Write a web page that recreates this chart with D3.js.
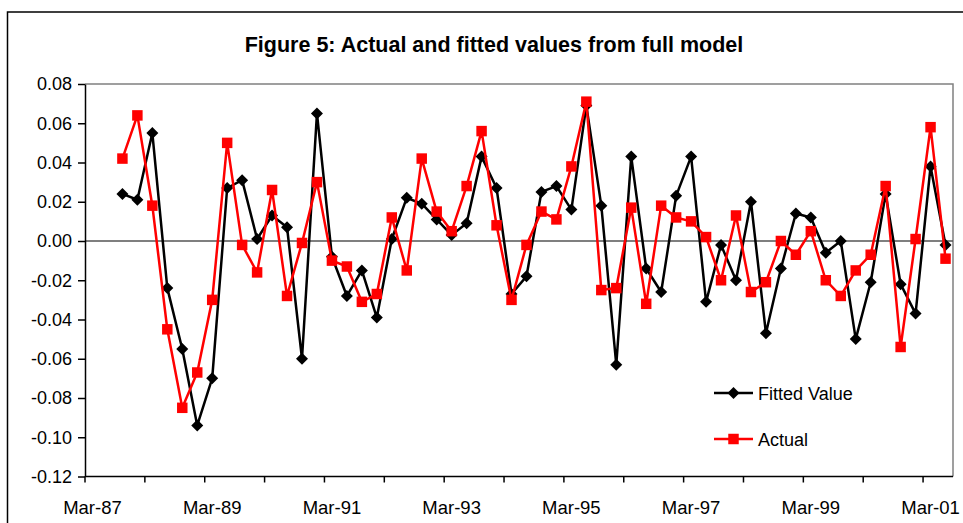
<!DOCTYPE html>
<html>
<head>
<meta charset="utf-8">
<script src="https://cdn.jsdelivr.net/npm/d3@7/dist/d3.min.js"></script>
<style>
    body { margin: 0; background: #fff; }
    svg { display: block; font-family: 'Liberation Sans', Arial, sans-serif; }
</style>
</head>
<body>
<div class="graph-container"></div>
<script>
// quarterly categories on the x axis (Mar-87 .. Jun-01)
var categories = [
    'Mar-87', 'Jun-87', 'Sep-87', 'Dec-87', 'Mar-88', 'Jun-88', 'Sep-88', 'Dec-88',
    'Mar-89', 'Jun-89', 'Sep-89', 'Dec-89', 'Mar-90', 'Jun-90', 'Sep-90', 'Dec-90',
    'Mar-91', 'Jun-91', 'Sep-91', 'Dec-91', 'Mar-92', 'Jun-92', 'Sep-92', 'Dec-92',
    'Mar-93', 'Jun-93', 'Sep-93', 'Dec-93', 'Mar-94', 'Jun-94', 'Sep-94', 'Dec-94',
    'Mar-95', 'Jun-95', 'Sep-95', 'Dec-95', 'Mar-96', 'Jun-96', 'Sep-96', 'Dec-96',
    'Mar-97', 'Jun-97', 'Sep-97', 'Dec-97', 'Mar-98', 'Jun-98', 'Sep-98', 'Dec-98',
    'Mar-99', 'Jun-99', 'Sep-99', 'Dec-99', 'Mar-00', 'Jun-00', 'Sep-00', 'Dec-00',
    'Mar-01', 'Jun-01'
];
// first quarter that has data
var firstQuarter = 'Sep-87';

// fitted values from the full model
var fitted = [
    0.024, 0.021, 0.055, -0.024, -0.055, -0.094, -0.070, 0.027, 0.031, 0.001,
    0.013, 0.007, -0.060, 0.065, -0.008, -0.028, -0.015, -0.039, 0.001, 0.022,
    0.019, 0.011, 0.003, 0.009, 0.043, 0.027, -0.027, -0.018, 0.025, 0.028,
    0.016, 0.069, 0.018, -0.063, 0.043, -0.014, -0.026, 0.023, 0.043, -0.031,
    -0.002, -0.020, 0.020, -0.047, -0.014, 0.014, 0.012, -0.006, -0.000, -0.050,
    -0.021, 0.024, -0.022, -0.037, 0.038, -0.002
];
// actual values
var actual = [
    0.042, 0.064, 0.018, -0.045, -0.085, -0.067, -0.030, 0.050, -0.002, -0.016,
    0.026, -0.028, -0.001, 0.030, -0.010, -0.013, -0.031, -0.027, 0.012, -0.015,
    0.042, 0.015, 0.005, 0.028, 0.056, 0.008, -0.030, -0.002, 0.015, 0.011,
    0.038, 0.071, -0.025, -0.024, 0.017, -0.032, 0.018, 0.012, 0.010, 0.002,
    -0.020, 0.013, -0.026, -0.021, -0.000, -0.007, 0.005, -0.020, -0.028, -0.015,
    -0.007, 0.028, -0.054, 0.001, 0.058, -0.009
];

var yTicks = [-0.12, -0.10, -0.08, -0.06, -0.04, -0.02, 0.00, 0.02, 0.04, 0.06, 0.08];
var xLabels = ['Mar-87', 'Mar-89', 'Mar-91', 'Mar-93', 'Mar-95', 'Mar-97', 'Mar-99', 'Mar-01'];

var svgWidth = 963;
var svgHeight = 523;
var plotLeft = 85;
var plotRight = 953;
var plotTop = 84;
var plotBottom = 476.5;

var svg = d3.select('.graph-container').append('svg')
    .attr('width', svgWidth)
    .attr('height', svgHeight);

// outer chart frame (runs off the right and bottom edges)
svg.append('rect')
    .attr('x', 7.5)
    .attr('y', 12)
    .attr('width', 1000)
    .attr('height', 1000)
    .attr('fill', 'none')
    .attr('stroke', '#000')
    .attr('stroke-width', 1.5);

svg.append('text')
    .attr('x', 494)
    .attr('y', 52)
    .attr('text-anchor', 'middle')
    .style('font-size', '21.5px')
    .style('font-weight', 'bold')
    .text('Figure 5: Actual and fitted values from full model');

var xScale = d3.scaleBand()
    .domain(categories)
    .range([plotLeft, plotRight])
    .padding(0);

var yScale = d3.scaleLinear()
    .domain([-0.12, 0.08])
    .range([plotBottom, plotTop]);

function xCenter(c) {
    return xScale(c) + xScale.bandwidth() / 2;
}

// plot area border on top and right
svg.append('path')
    .attr('d', 'M' + plotLeft + ',' + plotTop + 'H' + plotRight + 'V' + plotBottom)
    .attr('fill', 'none')
    .attr('stroke', '#808080')
    .attr('stroke-width', 1.5);

// zero line
svg.append('line')
    .attr('x1', plotLeft)
    .attr('x2', plotRight)
    .attr('y1', yScale(0))
    .attr('y2', yScale(0))
    .attr('stroke', '#555')
    .attr('stroke-width', 1.5);

// y axis
var yAxis = d3.axisLeft(yScale)
    .tickValues(yTicks)
    .tickFormat(function(d) { return d.toFixed(2); })
    .tickSize(7)
    .tickSizeOuter(0)
    .tickPadding(6);

var yG = svg.append('g')
    .attr('transform', 'translate(' + plotLeft + ',0)')
    .call(yAxis);
yG.selectAll('text').style('font-size', '18px').attr('fill', '#000')
    .style('font-family', "'Liberation Sans', Arial, sans-serif");
yG.selectAll('line, path').attr('stroke', '#000').attr('stroke-width', 1.5);

// x axis tick marks every four quarters (band edges)
var tickCats = categories.filter(function(d, i) { return i % 4 === 0; });
var xTickG = svg.append('g')
    .attr('transform', 'translate(0,' + plotBottom + ')');
xTickG.append('line')
    .attr('x1', plotLeft)
    .attr('x2', plotRight)
    .attr('stroke', '#000')
    .attr('stroke-width', 1.5);
xTickG.selectAll('.tick-mark')
    .data(tickCats)
    .enter()
    .append('line')
    .attr('class', 'tick-mark')
    .attr('x1', function(d) { return xScale(d); })
    .attr('x2', function(d) { return xScale(d); })
    .attr('y1', 0)
    .attr('y2', 6)
    .attr('stroke', '#000')
    .attr('stroke-width', 1.5);

// x labels centred on their quarter
svg.selectAll('.x-label')
    .data(xLabels)
    .enter()
    .append('text')
    .attr('class', 'x-label')
    .attr('x', function(d) { return xCenter(d); })
    .attr('y', 514)
    .attr('text-anchor', 'middle')
    .style('font-size', '18.5px')
    .text(function(d) { return d; });

var startIndex = categories.indexOf(firstQuarter);

function toPoints(values) {
    return values.map(function(v, i) {
        return { cat: categories[startIndex + i], value: v };
    });
}

var line = d3.line()
    .x(function(d) { return xCenter(d.cat); })
    .y(function(d) { return yScale(d.value); });

var diamond = d3.symbol().type(d3.symbolSquare).size(72);
var square = d3.symbol().type(d3.symbolSquare).size(110);

function drawSeries(values, color, symbol, rotate) {
    var pts = toPoints(values);
    svg.append('path')
        .datum(pts)
        .attr('d', line)
        .attr('fill', 'none')
        .attr('stroke', color)
        .attr('stroke-width', 2.5)
        .attr('stroke-linejoin', 'round');

    svg.selectAll(null)
        .data(pts)
        .enter()
        .append('path')
        .attr('d', symbol)
        .attr('fill', color)
        .attr('transform', function(d) {
            return 'translate(' + xCenter(d.cat) + ',' + yScale(d.value) + ')' + (rotate ? ' rotate(45)' : '');
        });
}

drawSeries(fitted, '#000', diamond, true);
drawSeries(actual, '#ff0000', square, false);

// legend
var legendItems = [
    { name: 'Fitted Value', color: '#000', symbol: diamond, rotate: true, y: 393 },
    { name: 'Actual', color: '#ff0000', symbol: square, rotate: false, y: 439 }
];
var legend = svg.selectAll('.legend')
    .data(legendItems)
    .enter()
    .append('g')
    .attr('class', 'legend')
    .attr('transform', function(d) { return 'translate(714,' + d.y + ')'; });
legend.append('line')
    .attr('x1', 0)
    .attr('x2', 39)
    .attr('stroke', function(d) { return d.color; })
    .attr('stroke-width', 2.5);
legend.append('path')
    .attr('d', function(d) { return d.symbol(); })
    .attr('fill', function(d) { return d.color; })
    .attr('transform', function(d) { return 'translate(19.5,0)' + (d.rotate ? ' rotate(45)' : ''); });
legend.append('text')
    .attr('x', 44)
    .attr('y', 6.5)
    .style('font-size', '18px')
    .text(function(d) { return d.name; });
</script>
</body>
</html>
